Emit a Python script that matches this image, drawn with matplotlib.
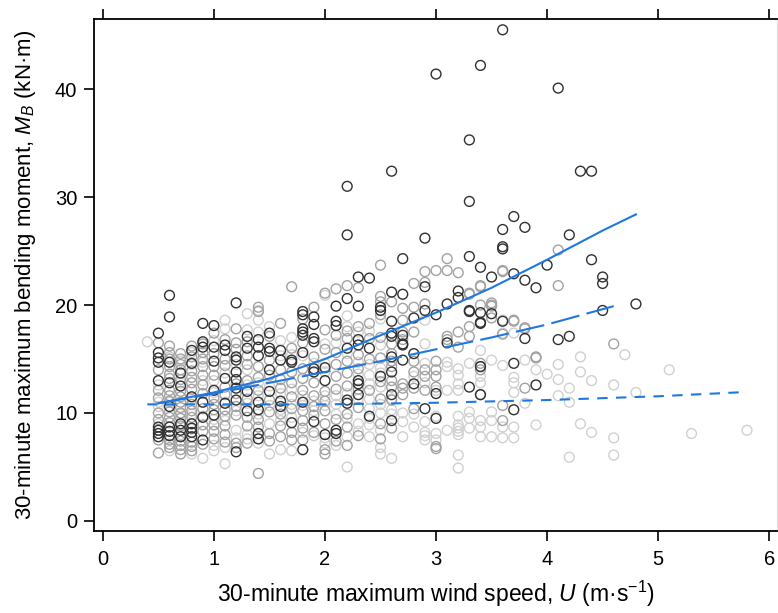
import matplotlib
matplotlib.use("Agg")
import matplotlib.pyplot as plt

# wind speed (m/s) -> bending moment values (kN m), grouped by symbol shade
dark_pts = {
    0.5: [17.4, 15.6, 15.1, 14.7, 13.0, 8.7, 8.4, 8.1, 7.8],
    0.6: [20.9, 18.9, 14.7, 12.8, 10.6, 8.7, 8.3, 7.9],
    0.7: [13.7, 12.5, 9.0, 8.4, 7.8],
    0.8: [15.8, 14.6, 11.5, 9.0, 8.6, 8.2, 7.8],
    0.9: [18.3, 16.6, 16.1, 11.0, 9.6, 7.5],
    1.0: [18.1, 16.1, 14.8, 12.1, 9.8],
    1.1: [16.3, 15.8, 13.2, 10.9],
    1.2: [20.2, 15.2, 14.9, 13.8, 13.1, 12.3, 11.2, 6.4],
    1.3: [17.1, 16.0, 12.0, 10.2],
    1.4: [16.8, 16.1, 15.3, 11.0, 10.3, 8.1, 7.6],
    1.5: [17.4, 16.0, 15.7, 14.0, 12.0],
    1.6: [15.8, 14.9, 11.1, 10.6],
    1.7: [14.9, 14.7, 9.1],
    1.8: [19.4, 19.1, 17.8, 17.5, 17.2, 15.6, 11.0, 6.6],
    1.9: [18.9, 18.2, 16.9, 16.6, 14.1, 13.8, 9.2],
    2.0: [14.2, 13.0, 8.0],
    2.1: [19.9, 18.5, 18.1, 8.4, 8.1],
    2.2: [31.0, 26.5, 20.6, 16.0, 11.2, 10.9],
    2.3: [22.6, 19.9, 16.8, 16.3, 13.0, 12.7, 11.7],
    2.4: [22.5, 16.0, 9.7],
    2.5: [19.8, 19.5, 13.4],
    2.6: [32.4, 21.2, 18.5, 17.4, 17.1, 15.2, 13.8, 11.7, 9.3],
    2.7: [24.3, 21.0, 17.2, 16.4, 16.3, 14.9],
    2.8: [18.8, 15.5, 12.7],
    2.9: [26.2, 21.7, 19.5, 10.4],
    3.0: [41.4, 19.1, 11.8, 9.5],
    3.1: [20.1, 16.5],
    3.2: [21.3, 20.7],
    3.3: [35.3, 29.6, 24.5, 19.5, 19.4, 12.4],
    3.4: [42.2, 23.5, 19.3, 18.4, 18.3, 14.3, 11.7],
    3.5: [22.6, 19.2],
    3.6: [45.5, 27.0, 25.4, 25.2, 18.5],
    3.7: [28.2, 22.9, 14.6, 10.3],
    3.8: [27.2, 22.3, 16.9],
    3.9: [21.6, 12.6],
    4.0: [23.7],
    4.1: [40.1, 16.8],
    4.2: [26.5, 17.1],
    4.3: [32.4],
    4.4: [32.4, 24.2],
    4.5: [22.6, 22.0, 19.5],
    4.8: [20.1],
}

mid_pts = {
    0.5: [16.5, 14.0, 12.1, 11.4, 10.0, 9.4, 7.5, 6.3],
    0.6: [16.2, 15.6, 15.0, 14.3, 13.6, 13.2, 12.1, 11.6, 11.1, 10.1, 9.6, 9.1, 7.5, 7.1, 6.8],
    0.7: [15.5, 15.0, 14.5, 14.0, 13.1, 12.0, 11.5, 11.0, 10.5, 10.0, 9.5, 8.8, 7.4, 7.0, 6.6, 6.2],
    0.8: [16.2, 15.2, 13.9, 13.3, 12.8, 12.2, 10.8, 10.2, 9.6, 7.3, 6.9, 6.5],
    0.9: [16.4, 15.6, 15.0, 14.3, 13.5, 12.6, 11.8, 10.4, 8.9, 8.3, 7.1],
    1.0: [17.4, 15.5, 14.3, 13.5, 11.4, 10.8, 10.3, 8.9, 8.3, 7.6],
    1.1: [16.8, 15.0, 14.4, 12.4, 11.7, 10.3, 9.7, 8.8, 8.0, 7.3],
    1.2: [17.8, 16.5, 15.9, 12.7, 11.8, 10.6, 9.8, 7.2, 6.8],
    1.3: [16.6, 15.3, 14.5, 13.0, 11.3, 9.6, 8.8, 7.2],
    1.4: [19.8, 19.4, 14.3, 13.3, 12.1, 9.4, 8.7, 4.4],
    1.5: [17.1, 14.9, 13.5, 11.2, 10.1, 8.1, 7.4],
    1.6: [18.3, 14.0, 13.1, 12.3, 9.9, 8.8, 7.8],
    1.7: [21.7, 16.0, 13.8, 12.8, 11.5, 10.4, 8.2, 7.5],
    1.8: [18.7, 16.5, 14.1, 13.2, 12.1, 10.2, 9.3, 8.6, 7.5],
    1.9: [19.8, 15.2, 12.8, 11.6, 10.6, 9.8, 8.2],
    2.0: [21.1, 17.7, 15.9, 12.0, 11.1, 10.2, 9.0, 6.6, 6.2],
    2.1: [21.5, 17.2, 15.6, 14.5, 13.4, 12.2, 9.4, 7.4],
    2.2: [21.8, 17.6, 16.9, 14.8, 13.7, 12.5, 9.9, 8.7, 7.0],
    2.3: [21.6, 18.0, 15.4, 14.1, 12.2, 10.5, 7.9],
    2.4: [18.3, 16.9, 15.0, 12.1],
    2.5: [23.7, 20.8, 20.3, 19.1, 17.0, 15.1, 12.9, 11.3, 9.0, 7.6],
    2.6: [20.3, 16.4, 15.5, 14.8, 14.3, 13.0, 12.4, 11.2, 8.6],
    2.7: [19.7, 18.6, 17.5, 16.8, 12.7, 12.3, 11.7],
    2.8: [22.0, 19.8, 17.5, 14.8, 13.8, 12.3, 10.4],
    2.9: [23.1, 22.1, 20.1, 14.0, 13.4, 12.1],
    3.0: [23.2, 14.8, 14.0, 13.4, 12.4, 6.9, 6.7],
    3.1: [24.3, 23.2, 17.1, 16.8],
    3.2: [23.0, 17.5, 16.1],
    3.3: [21.1, 21.0, 18.0, 17.1],
    3.4: [21.8, 21.7, 20.0, 14.6, 14.3, 14.0, 11.7],
    3.5: [20.2, 20.0, 19.9, 18.8],
    3.6: [23.2, 23.1, 17.3, 10.7, 9.3],
    3.7: [18.6, 18.5],
    3.8: [17.9, 17.8, 12.3],
    3.9: [15.2, 15.1],
    4.1: [25.1, 21.8],
    4.6: [16.4],
}

light_pts = {
    0.4: [16.6],
    0.5: [12.6, 11.0, 10.6, 9.0],
    0.6: [15.2, 11.0, 6.5],
    0.7: [14.8, 12.8, 9.9, 8.0],
    0.8: [15.6, 14.5, 11.3, 9.9, 8.5, 6.2],
    0.9: [14.7, 13.0, 11.0, 9.7, 5.8],
    1.0: [16.7, 13.0, 11.9, 9.4, 7.0, 6.5],
    1.1: [18.6, 17.8, 13.7, 11.0, 9.3, 6.8, 5.3],
    1.2: [14.5, 10.2, 8.4, 7.7],
    1.3: [19.2, 17.7, 14.0, 12.6, 10.9, 8.0, 7.6],
    1.4: [19.5, 18.6, 17.5, 12.8, 11.6, 9.9, 7.2],
    1.5: [18.0, 12.5, 10.7, 9.0, 6.2],
    1.6: [16.7, 15.3, 11.8, 10.3, 9.3, 6.6],
    1.7: [17.0, 15.4, 12.2, 10.8, 9.6, 6.5],
    1.8: [15.3, 11.6, 10.7, 8.2],
    1.9: [14.6, 11.1, 10.2, 7.9],
    2.0: [20.9, 16.4, 14.6, 13.8, 11.6, 10.7, 7.7, 7.2],
    2.1: [16.5, 11.6, 10.8, 9.9, 7.0],
    2.2: [19.0, 18.0, 15.5, 11.8, 9.5, 7.8, 5.0],
    2.3: [17.5, 14.7, 13.6, 11.3, 9.0, 8.3],
    2.4: [17.6, 14.5, 13.5, 12.7, 11.3, 10.4, 9.5, 8.9, 7.8],
    2.5: [18.7, 16.3, 14.2, 13.7, 12.4, 10.8, 10.0, 8.4, 6.8, 6.2],
    2.6: [11.3, 10.3, 9.9, 5.8],
    2.7: [10.0, 9.2, 7.8],
    2.8: [13.4, 9.9, 8.7],
    2.9: [18.6, 16.4, 14.6, 12.8, 9.2, 8.2, 7.9, 7.5],
    3.0: [12.1, 9.7, 8.1, 7.5],
    3.1: [14.7, 14.3, 12.1, 8.4],
    3.2: [14.1, 13.5, 12.7, 12.1, 9.7, 8.9, 8.6, 8.3, 8.0, 6.1, 4.9],
    3.3: [14.6, 10.1, 9.5, 8.6],
    3.4: [15.8, 13.4, 12.8, 9.3, 8.7, 7.8],
    3.5: [14.9, 10.1, 9.3, 7.8],
    3.6: [18.6, 17.4, 14.4, 8.7, 7.7],
    3.7: [17.4, 13.3, 12.8, 11.9, 8.7, 7.7],
    3.8: [14.9, 10.9],
    3.9: [14.0, 8.9],
    4.0: [13.6],
    4.1: [14.5, 13.1, 11.6],
    4.2: [12.3, 11.0, 5.9],
    4.3: [15.2, 13.8, 9.0],
    4.4: [13.0, 8.2],
    4.6: [12.6, 7.7, 6.1],
    4.7: [15.4],
    4.8: [11.9],
    5.1: [14.0],
    5.3: [8.1],
    5.8: [8.4],
}

# fitted curves
fit_u = [0.5, 1.0, 1.5, 2.0, 2.5, 3.0, 3.5, 4.0, 4.5, 4.8]
fit_m = [10.9, 11.9, 13.2, 15.0, 17.2, 19.3, 21.6, 24.2, 26.9, 28.4]
mid_fit_u = [0.5, 1.0, 1.5, 2.0, 2.5, 3.0, 3.5, 4.0, 4.6]
mid_fit_m = [10.9, 11.8, 12.8, 13.8, 14.8, 15.9, 17.0, 18.2, 19.9]
low_fit_u = [0.4, 1.0, 2.0, 3.0, 4.0, 5.0, 5.8]
low_fit_m = [10.8, 10.8, 10.8, 10.95, 11.2, 11.55, 11.95]

plt.rcParams['font.family'] = ['Liberation Sans', 'DejaVu Sans']
plt.rcParams['mathtext.fontset'] = 'custom'
plt.rcParams['mathtext.rm'] = 'Liberation Sans'
plt.rcParams['mathtext.it'] = 'Liberation Sans:italic'

fig = plt.figure(figsize=(7.78, 6.13), dpi=100)
ax = fig.add_axes([0.1208, 0.1338, 0.8779, 0.8352])

for pts, col in [(light_pts, '#d0d0d0'), (mid_pts, '#a2a2a2'), (dark_pts, '#303030')]:
    us = [u for u, ms in pts.items() for m in ms]
    ms = [m for u, vals in pts.items() for m in vals]
    ax.scatter(us, ms, s=50, facecolors='none', edgecolors=col, linewidths=1.0)

blue = '#1f78e0'
ax.plot(fit_u, fit_m, color=blue, lw=1.5)
ax.plot(mid_fit_u, mid_fit_m, color=blue, lw=1.5, linestyle=(0, (14, 3.5)))
ax.plot(low_fit_u, low_fit_m, color=blue, lw=1.5, linestyle=(0, (5, 4)))

ax.set_xlim(-0.08, 6.07)
ax.set_ylim(-0.93, 46.5)
ax.set_xticks([0, 1, 2, 3, 4, 5, 6])
ax.set_yticks([0, 10, 20, 30, 40])
ax.tick_params(axis='x', direction='out', length=7, width=1.2, labelsize=14.5, pad=7, top=True)
ax.tick_params(axis='y', direction='out', length=7, width=1.2, labelsize=14.5, pad=5)
for side in ['left', 'bottom', 'top']:
    ax.spines[side].set_linewidth(1.3)
ax.spines['right'].set_color('#dddddd')

ax.set_xlabel('30-minute maximum wind speed, $U$ (m·s$^{-1}$)', fontsize=16.5, labelpad=7)
ax.set_ylabel('30-minute maximum bending moment, $M_B$ (kN·m)', fontsize=16, labelpad=12)

fig.savefig('out.png', dpi=100)
